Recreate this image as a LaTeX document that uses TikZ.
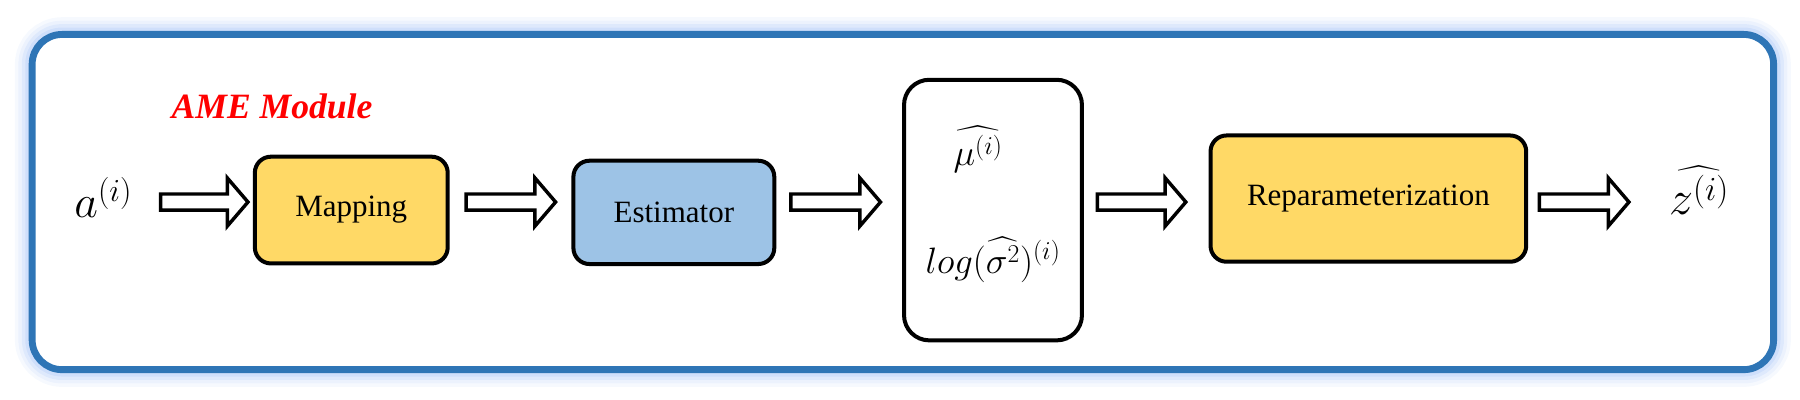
\documentclass[tikz,border=0pt]{standalone}
\usepackage{fix-cm}
\usepackage{amsmath}
\usepackage{fontspec}
\setmainfont{Liberation Serif}
\usetikzlibrary{calc}
\definecolor{frameblue}{HTML}{2E75B6}
\definecolor{glow}{HTML}{8FB4F5}
\definecolor{yel}{HTML}{FFD966}
\definecolor{lblue}{HTML}{9DC3E6}
\begin{document}
\begin{tikzpicture}[x=1pt,y=-1pt,
  blk/.style={draw=black,line width=3.5pt,rounded corners=14pt,inner sep=0pt},
  harrow/.style={draw=black,fill=white,line width=3pt,line join=miter},
  lbl/.style={font=\fontsize{27}{30}\selectfont}]
\useasboundingbox (0,0) rectangle (1568,348);
% glow
\foreach \w/\o in {30/0.08,24/0.1,18/0.14,12/0.2}{
  \draw[glow,line width=\w pt,opacity=\o,rounded corners=26pt] (28,30) rectangle (1545,322);}
\node[draw=frameblue,line width=6pt,rounded corners=26pt,fill=white,minimum width=1517pt,minimum height=292pt,inner sep=0pt] (frame) at (786.5,176) {};
\node[text=red,font=\fontsize{31}{34}\selectfont\bfseries\itshape] (title) at (237,93) {AME Module};
\node (a) at (90,172) {\fontsize{40}{44}\selectfont$a^{(i)}$};
\node[blk,fill=yel,minimum width=168pt,minimum height=93pt,lbl] (map) at (306,183) {Mapping};
\node[blk,fill=lblue,minimum width=175pt,minimum height=90pt,lbl] (est) at (587,185) {Estimator};
\node[blk,fill=white,minimum width=155pt,minimum height=227pt,rounded corners=22pt] (par) at (865,183) {};
\node[inner sep=1pt] (mu) at (852,130) {\fontsize{32}{36}\selectfont$\widehat{\mu^{(i)}}$};
\node[inner sep=1pt] (lg) at (865,226) {\fontsize{32}{36}\selectfont$log(\widehat{\sigma^2})^{(i)}$};
\node[blk,fill=yel,minimum width=275pt,minimum height=110pt,lbl] (rep) at (1192,173) {Reparameterization};
\node[inner sep=1pt] (z) at (1480,166) {\fontsize{42}{46}\selectfont$\widehat{z^{(i)}}$};
\newcommand{\myharrow}[2]{%
  \draw[harrow] (#1,169)--(#2-18,169)--(#2-18,155)--(#2,176)--(#2-18,197)--(#2-18,183)--(#1,183)--cycle;}
\myharrow{140}{216}
\myharrow{406}{484}
\myharrow{689}{767}
\myharrow{956}{1033}
\myharrow{1341}{1419}
\end{tikzpicture}
\end{document}
